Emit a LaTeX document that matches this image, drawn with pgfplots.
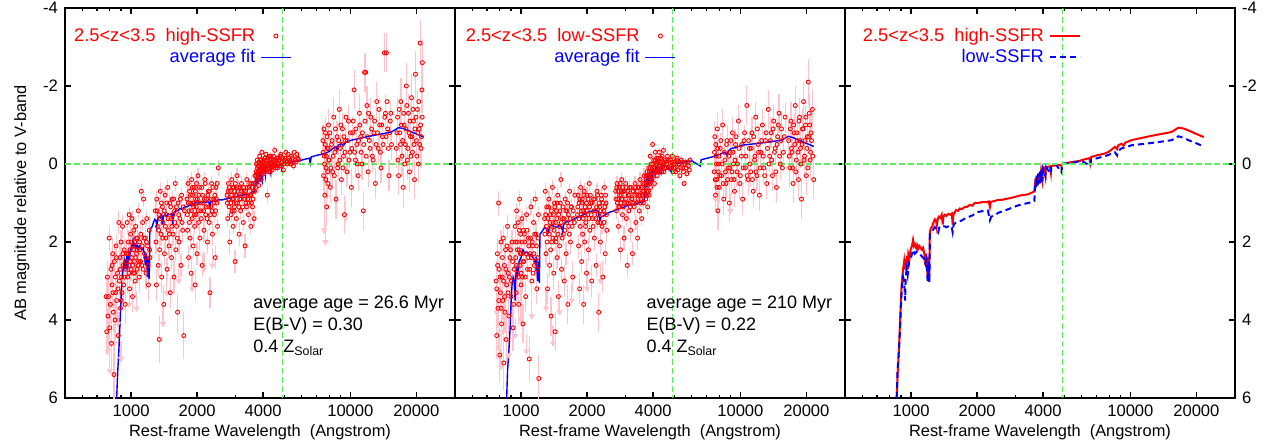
\documentclass[border=0pt]{standalone}
\usepackage{fontspec}
\setmainfont{Liberation Sans}
\usepackage{pgfplots}
\pgfplotsset{compat=1.18}
\usepackage{pgfplotstable}

\definecolor{gpgreen}{RGB}{95,235,95}
\definecolor{gppink}{RGB}{255,195,205}

\pgfplotstableread{
x y
860 6.0
870 5.3
880 4.8
890 4.1
898 3.6
904 3.2
912 2.9
920 2.7
930 2.5
936 2.7
942 2.45
950 2.6
958 2.35
966 2.7
972 2.3
985 2.4
995 2.2
1010 2.1
1021 1.95
1030 2.1
1040 2.05
1055 2.15
1065 2.08
1076 2.18
1090 2.1
1105 2.15
1120 2.2
1134 2.15
1150 2.3
1163 2.6
1170 2.3
1180 2.5
1190 2.9
1200 2.4
1210 2.95
1218 1.75
1230 1.65
1250 1.6
1265 1.5
1283 1.42
1300 1.45
1310 1.6
1325 1.4
1340 1.35
1360 1.38
1380 1.3
1395 1.55
1405 1.35
1426 1.3
1450 1.33
1480 1.28
1510 1.3
1535 1.27
1548 1.55
1560 1.3
1605 1.18
1640 1.2
1670 1.14
1700 1.16
1760 1.1
1800 1.1
1850 1.05
1900 1.07
1950 1.0
2023 1.0
2100 0.98
2200 0.98
2260 0.96
2289 1.1
2310 0.97
2400 0.95
2500 0.92
2600 0.92
2680 0.9
2800 0.88
2950 0.85
3082 0.82
3200 0.8
3400 0.78
3607 0.72
3650 0.7
3680 0.5
3700 0.35
3720 0.55
3740 0.3
3770 0.5
3800 0.25
3835 0.45
3870 0.2
3890 0.45
3920 0.18
3970 0.4
4000 0.12
4050 0.1
4100 0.3
4120 0.08
4300 0.06
4340 0.22
4360 0.05
4600 0.03
4850 0.02
4861 0.2
4880 0.0
5100 -0.02
5400 -0.05
5900 -0.08
6000 -0.1
6500 -0.15
6560 -0.02
6630 -0.18
7000 -0.22
7660 -0.27
8000 -0.32
8510 -0.44
8700 -0.38
8800 -0.48
9100 -0.52
9300 -0.47
9500 -0.55
10100 -0.61
10880 -0.65
11500 -0.68
12950 -0.74
14150 -0.78
15400 -0.82
16560 -0.93
17500 -0.91
18420 -0.86
20000 -0.77
21600 -0.69
}\hifit

\pgfplotstableread{
x y
860 6.0
868 5.3
880 4.8
892 4.2
900 3.6
910 3.1
920 2.9
930 3.0
940 3.5
945 2.9
955 2.7
965 2.85
980 2.5
1000 2.4
1021 2.2
1040 2.3
1060 2.25
1076 2.3
1100 2.32
1134 2.4
1150 2.45
1163 2.55
1175 2.45
1190 3.0
1205 2.5
1212 3.05
1220 1.8
1240 1.75
1283 1.62
1310 1.68
1330 1.75
1350 1.6
1380 1.58
1420 1.6
1450 1.62
1500 1.58
1530 1.6
1548 1.75
1565 1.55
1605 1.49
1700 1.45
1760 1.40
1900 1.32
2023 1.23
2150 1.2
2240 1.19
2290 1.44
2320 1.35
2400 1.32
2500 1.25
2680 1.19
2800 1.15
3082 1.06
3300 1.02
3607 0.97
3650 0.95
3680 0.55
3700 0.4
3720 0.6
3750 0.3
3780 0.55
3800 0.25
3840 0.5
3870 0.2
3890 0.5
3930 0.15
3970 0.45
4000 0.12
4100 0.3
4120 0.08
4340 0.25
4360 0.05
4600 0.03
4861 0.22
4880 0.0
5400 -0.03
6000 -0.08
6560 0.05
6630 -0.11
7660 -0.2
8000 -0.24
8500 -0.3
8700 -0.22
8800 -0.33
9100 -0.4
9500 -0.42
10100 -0.48
10880 -0.5
12950 -0.55
15400 -0.61
16560 -0.71
17500 -0.67
18420 -0.61
20000 -0.53
21600 -0.45
}\lofit

\pgfplotstableread{
x y e
770 3.4 0.5
775 4.3 0.6
780 2.9 0.4
785 3.9 0.5
790 3.4 0.5
795 1.9 0.3
800 4.2 0.6
805 3.6 0.5
810 2.7 0.4
815 4.6 0.7
820 3.1 0.4
825 2.3 0.4
830 3.8 0.5
836 5.4 0.8
840 2.5 0.4
845 4.0 0.5
850 3.3 0.4
855 2.1 0.3
860 3.5 0.5
868 2.8 0.4
875 4.4 0.6
880 1.5 0.3
885 3.0 0.4
890 2.4 0.3
895 3.7 0.5
900 2.0 0.3
905 2.9 0.4
910 3.3 0.4
915 1.6 0.3
920 2.6 0.4
925 3.1 0.4
930 2.2 0.3
940 3.6 0.5
945 2.7 0.4
955 2.3 0.3
960 1.5 0.3
965 2.9 0.4
970 2.0 0.3
975 2.6 0.3
980 1.3 0.2
985 3.2 0.4
990 2.2 0.3
995 1.8 0.3
1000 2.7 0.3
1005 2.4 0.3
1010 1.4 0.2
1015 3.4 0.4
1020 2.1 0.3
1025 2.8 0.3
1030 1.7 0.3
1035 2.5 0.3
1040 2.0 0.3
1045 3.0 0.4
1050 1.6 0.2
1060 2.3 0.3
1065 2.7 0.3
1070 1.9 0.3
1080 1.2 0.2
1085 2.5 0.3
1090 2.9 0.4
1100 2.2 0.3
1108 1.8 0.3
1113 0.7 0.2
1120 2.6 0.3
1130 1.5 0.2
1140 0.9 0.2
1150 2.3 0.3
1160 1.9 0.3
1170 2.8 0.4
1180 1.4 0.2
1190 2.1 0.3
1200 3.1 0.4
1210 1.7 0.3
1220 2.4 0.3
1290 1.2 0.3
1300 2.0 0.3
1305 3.1 0.4
1310 0.9 0.2
1320 1.6 0.3
1330 2.6 0.3
1340 1.3 0.2
1345 4.5 0.6
1350 2.2 0.3
1360 0.7 0.2
1370 1.8 0.3
1380 2.9 0.4
1390 1.1 0.2
1400 1.5 0.2
1410 3.6 0.5
1420 2.3 0.3
1430 0.8 0.2
1440 1.9 0.3
1450 1.3 0.2
1460 2.7 0.3
1470 0.6 0.2
1480 1.7 0.3
1490 2.1 0.3
1500 1.0 0.2
1510 3.3 0.4
1520 1.4 0.2
1530 2.4 0.3
1540 0.9 0.2
1555 1.8 0.3
1570 2.9 0.4
1580 1.2 0.2
1590 0.5 0.2
1600 2.2 0.3
1615 1.6 0.2
1630 3.8 0.5
1640 1.0 0.2
1655 2.0 0.3
1670 1.4 0.2
1690 2.6 0.3
1700 0.8 0.2
1720 1.7 0.3
1740 4.4 0.6
1750 1.2 0.2
1800 0.9 0.2
1810 1.7 0.3
1820 0.5 0.2
1830 2.4 0.3
1840 1.2 0.2
1850 0.7 0.2
1860 1.9 0.3
1870 1.0 0.2
1880 2.8 0.4
1890 0.4 0.2
1900 1.4 0.2
1910 0.8 0.2
1920 2.1 0.3
1930 1.1 0.2
1940 0.6 0.2
1950 1.6 0.2
1960 3.1 0.4
1970 0.9 0.2
1980 1.3 0.2
1990 0.5 0.2
2000 2.3 0.3
2010 1.0 0.2
2020 0.3 0.2
2030 1.5 0.2
2040 0.8 0.2
2060 1.9 0.3
2080 1.2 0.2
2100 0.6 0.2
2110 2.6 0.3
2130 1.0 0.2
2150 1.7 0.3
2170 0.4 0.2
2190 1.3 0.2
2210 0.9 0.2
2230 2.0 0.3
2250 0.7 0.2
2270 1.5 0.2
2290 3.3 0.4
2310 1.1 0.2
2330 0.5 0.2
2350 1.8 0.3
2380 0.9 0.2
2400 1.3 0.2
2420 2.4 0.3
2440 0.6 0.2
2460 1.0 0.2
2480 1.6 0.2
2500 0.1 0.2
2740 0.8 0.2
2760 1.4 0.2
2780 0.5 0.2
2800 1.1 0.2
2820 2.0 0.3
2840 0.7 0.2
2860 1.3 0.2
2880 0.4 0.2
2900 0.9 0.2
2920 1.6 0.2
2940 0.6 0.2
2960 1.1 0.2
2980 2.5 0.3
3000 0.8 0.2
3020 1.4 0.2
3040 0.3 0.2
3060 1.0 0.2
3090 0.6 0.2
3110 1.8 0.3
3130 0.9 0.2
3160 1.2 0.2
3190 0.5 0.2
3220 0.8 0.2
3250 1.5 0.2
3280 0.7 0.2
3310 2.1 0.3
3340 1.0 0.2
3370 0.4 0.2
3400 0.9 0.2
3430 1.3 0.2
3460 0.6 0.2
3490 0.8 0.2
3520 1.6 0.2
3550 0.5 0.2
3580 1.1 0.2
3610 0.7 0.2
3640 1.4 0.2
3670 0.3 0.2
3700 0.6 0.2
3720 0.2 0.1
3740 0.45 0.1
3760 -0.1 0.1
3780 0.35 0.1
3800 0.05 0.1
3820 0.55 0.2
3840 0.15 0.1
3860 -0.2 0.1
3880 0.3 0.1
3900 0.0 0.1
3920 0.4 0.1
3950 -0.3 0.1
3980 0.1 0.1
4000 -0.1 0.1
4030 0.25 0.1
4060 -0.05 0.1
4090 0.15 0.1
4120 -0.25 0.1
4150 0.05 0.1
4180 0.8 0.2
4210 -0.15 0.1
4240 0.1 0.1
4270 -0.05 0.1
4300 0.2 0.1
4330 -0.2 0.1
4360 0.0 0.1
4400 0.15 0.1
4440 -0.1 0.1
4480 0.05 0.1
4520 -0.35 0.1
4560 0.1 0.1
4600 -0.05 0.1
4650 0.1 0.1
4700 -0.15 0.1
4760 0.05 0.1
4820 -0.25 0.1
4880 -0.05 0.1
4950 0.15 0.1
5000 -0.1 0.1
5080 -0.3 0.1
5150 0.0 0.1
5230 -0.15 0.1
5300 -0.05 0.1
5400 -0.2 0.1
5500 0.05 0.1
5600 -0.1 0.1
5700 -0.25 0.1
5800 -0.12 0.1
7500 -0.6 0.4
7550 0.3 0.4
7600 -0.2 0.4
7650 0.8 0.5
7700 -0.8 0.4
7750 0.1 0.4
7800 1.1 0.5
7850 -0.4 0.4
7900 0.5 0.4
7950 -1.0 0.4
8000 -0.1 0.4
8100 0.6 0.4
8200 -0.5 0.4
8300 0.2 0.4
8400 -1.2 0.5
8500 -0.3 0.4
8600 0.9 0.5
8700 -0.7 0.4
8800 0.0 0.4
8900 -1.4 0.5
9000 -0.4 0.4
9100 0.4 0.4
9200 -0.9 0.4
9300 -0.2 0.4
9400 1.3 0.5
9500 -0.6 0.4
9650 0.2 0.4
9800 -1.1 0.4
9950 -0.3 0.4
10100 0.6 0.5
10250 -0.8 0.4
10400 -1.9 0.5
10550 -0.1 0.4
10700 -0.5 0.4
10850 0.3 0.4
11000 -1.3 0.5
11150 -0.7 0.4
11300 0.0 0.4
11450 1.2 0.5
11600 -2.35 0.5
11750 -2.35 0.5
11900 -1.5 0.5
12050 0.2 0.4
12200 -0.6 0.4
12400 -1.2 0.5
12600 -0.2 0.4
12800 -0.8 0.4
13000 0.5 0.4
13200 -1.6 0.5
13400 -0.4 0.4
13600 -1.0 0.4
13800 0.1 0.4
14000 -0.7 0.4
14300 -2.85 0.5
14450 -1.3 0.5
14600 -2.85 0.5
14800 -0.9 0.4
15000 0.3 0.4
15200 -1.1 0.5
15400 -0.5 0.4
16200 -0.4 0.5
16400 -1.2 0.5
16600 0.3 0.5
16800 -0.8 0.5
17000 -1.6 0.6
17200 -0.2 0.5
17400 0.6 0.5
17600 -1.0 0.5
17800 -0.5 0.5
18000 -2.0 0.6
18200 -0.1 0.5
18400 -1.3 0.5
18600 0.2 0.5
18800 -0.7 0.5
19000 -1.7 0.6
19200 -0.3 0.5
19400 -1.1 0.5
19600 0.4 0.5
19800 -2.3 0.6
20000 -0.6 0.5
20200 -1.4 0.5
20400 0.0 0.5
20600 -0.9 0.5
20800 -3.1 0.6
21000 -0.4 0.5
21200 -1.9 0.6
21300 -2.6 0.6
}\hiobs

\pgfplotstableread{
x y
820 2.6
828 3.3
848 2.9
858 2.4
872 3.2
892 2.7
902 3.5
918 2.3
935 2.9
950 2.5
968 2.3
978 2.8
992 2.5
1002 2.0
1018 2.6
1028 2.2
1038 2.8
1048 2.4
1058 1.9
1068 2.2
1078 2.6
1095 2.0
1105 2.5
1125 2.1
1135 2.7
1145 1.9
1165 2.4
1175 2.0
1195 2.6
1215 2.2
1315 1.2
1335 1.7
1355 1.4
1375 1.0
1395 1.9
1415 1.2
1435 1.6
1455 1.0
1475 1.4
1495 1.8
1515 1.1
1535 1.6
1550 1.3
1565 0.9
1585 1.5
1610 1.1
1625 1.9
1650 1.3
1680 0.9
1710 1.5
1730 1.1
1805 1.3
1825 1.0
1845 1.5
1865 0.8
1885 1.2
1905 0.6
1925 1.0
1945 1.3
1965 0.7
1985 1.1
2005 0.9
2025 1.2
2050 0.6
2070 1.0
2090 1.4
2120 0.8
2140 1.2
2160 0.9
2180 0.5
2200 1.1
2220 1.4
2240 0.8
2260 1.1
2280 0.7
2300 1.3
2320 0.9
2340 1.2
2360 0.6
2390 1.0
2410 0.8
2430 1.2
2450 0.9
2470 0.5
2750 1.0
2770 0.7
2790 0.9
2810 0.6
2850 1.0
2870 0.8
2890 1.2
2910 0.6
2930 0.9
2950 1.2
2970 0.7
2990 0.5
3010 1.0
3030 0.8
3070 0.7
3100 1.1
3140 0.6
3170 0.9
3200 0.7
3230 1.1
3260 0.6
3300 0.9
3330 0.7
3360 1.1
3390 0.6
3420 0.8
3450 1.0
3480 0.5
3510 0.8
3540 1.0
3570 0.6
3600 0.9
3630 0.5
3660 0.7
3710 0.3
3730 0.0
3750 0.25
3770 0.1
3790 0.4
3810 0.2
3830 -0.05
3850 0.3
3870 0.1
3890 0.2
3910 -0.1
3935 0.2
3965 0.05
3990 0.2
4015 0.0
4045 0.1
4075 -0.15
4105 0.05
4135 0.15
4165 -0.1
4195 0.0
4225 0.2
4255 -0.2
4285 0.05
4315 -0.1
4345 0.1
4380 -0.05
4420 0.05
4460 -0.2
4500 0.0
4540 -0.1
4580 0.05
4620 -0.15
4680 0.0
4730 -0.1
4790 -0.2
4850 0.05
4920 -0.15
4980 0.0
5050 -0.15
5120 -0.05
5200 -0.25
5270 -0.1
5350 0.0
5450 -0.15
5550 -0.3
5650 -0.05
5750 -0.15
7520 -0.3
7580 -0.9
7630 0.0
7680 -0.5
7730 0.4
7780 -0.2
7830 -0.7
7880 0.2
7930 -0.4
7980 -0.1
8050 -0.8
8150 0.1
8250 -0.6
8350 -0.2
8450 0.3
8550 -0.9
8650 -0.4
8750 0.1
8850 -0.6
8950 -0.1
9050 -1.0
9150 -0.5
9250 0.1
9350 -0.7
9450 -0.3
9550 -1.2
9700 -0.6
9850 -0.1
10000 -0.8
10150 -0.4
10300 -1.1
10450 -0.3
10600 -0.9
10750 0.0
10900 -0.6
11050 -1.0
11200 -0.3
11350 -0.8
11500 -0.5
11650 -1.1
11800 -0.2
11950 -0.7
12100 -1.3
12300 -0.4
12500 -0.9
12700 -0.1
12900 -1.1
13100 -0.5
13300 -0.8
13500 -1.4
13700 -0.3
13900 -1.0
14100 -0.5
14350 -1.2
14550 -0.7
14700 -1.6
14900 -0.4
15100 -0.8
15300 -1.3
16300 -0.8
16500 -0.1
16700 -1.4
16900 -0.5
17100 -1.0
17300 -0.6
17500 -1.3
17700 0.0
17900 -0.9
18100 -1.5
18300 -0.4
18500 -0.8
18700 -1.1
18900 -0.2
19100 -0.7
19300 -1.4
19500 -0.5
19700 -0.9
19900 -1.2
20100 -0.2
20300 -0.8
20500 -1.6
20700 -0.5
20900 -1.0
21100 -0.7
21250 -1.2
}\hiext

\pgfplotstableread{
x y
785 4.8
800 5.3
820 3.6
840 4.6
870 4.1
900 5.0
920 3.0
980 3.6
1060 3.7
1400 4.1
1450 3.3
1650 3.0
1900 3.2
2150 2.7
2350 2.6
7600 1.7
7700 2.0
9500 1.4
}\hilim

\pgfplotstableread{
x y e
770 3.0 0.5
775 4.4 0.6
780 2.3 0.4
785 3.7 0.5
790 1.0 0.3
795 2.7 0.4
800 4.9 0.7
805 3.3 0.5
810 2.0 0.3
815 4.1 0.6
820 2.9 0.4
825 3.5 0.5
830 1.9 0.3
835 5.1 0.7
840 2.6 0.4
845 3.8 0.5
850 2.2 0.3
855 4.5 0.6
860 3.1 0.4
868 1.6 0.3
875 2.8 0.4
880 3.9 0.5
890 2.4 0.4
900 3.4 0.5
910 2.0 0.3
920 4.2 0.6
930 2.7 0.4
940 1.6 0.3
945 2.4 0.3
950 3.3 0.4
955 1.2 0.2
960 2.0 0.3
965 2.8 0.4
970 1.5 0.2
975 3.6 0.5
980 2.2 0.3
985 0.9 0.2
990 2.6 0.3
995 1.8 0.3
1000 3.1 0.4
1005 2.3 0.3
1010 1.4 0.2
1015 2.9 0.4
1020 4.1 0.5
1025 1.7 0.3
1030 2.5 0.3
1040 2.0 0.3
1050 3.4 0.4
1060 1.3 0.2
1070 2.7 0.3
1080 1.9 0.3
1090 5.0 0.6
1100 2.3 0.3
1110 1.1 0.2
1120 3.0 0.4
1130 2.1 0.3
1140 1.5 0.2
1150 2.6 0.3
1160 0.9 0.2
1170 1.8 0.3
1180 3.2 0.4
1190 2.4 0.3
1200 1.3 0.2
1205 5.5 0.6
1280 1.4 0.3
1290 0.7 0.2
1300 2.3 0.3
1310 1.1 0.2
1320 3.2 0.4
1330 1.7 0.3
1340 0.9 0.2
1350 2.6 0.3
1360 1.3 0.2
1370 3.9 0.5
1380 2.0 0.3
1390 0.6 0.2
1400 1.5 0.2
1410 2.8 0.4
1420 1.0 0.2
1430 4.3 0.5
1440 1.9 0.3
1450 1.2 0.2
1460 2.4 0.3
1470 0.8 0.2
1480 3.4 0.4
1490 1.6 0.3
1500 2.1 0.3
1510 1.0 0.2
1520 0.4 0.2
1530 2.7 0.3
1545 1.4 0.2
1560 1.8 0.3
1575 3.0 0.4
1590 0.9 0.2
1605 2.3 0.3
1620 1.2 0.2
1635 3.6 0.5
1650 1.6 0.3
1665 0.7 0.2
1680 2.0 0.3
1700 1.1 0.2
1720 2.9 0.4
1740 1.4 0.2
1760 0.8 0.2
1810 1.3 0.2
1820 0.8 0.2
1830 2.1 0.3
1840 1.0 0.2
1850 3.2 0.4
1860 1.6 0.3
1870 0.6 0.2
1880 1.2 0.2
1890 2.5 0.3
1900 0.9 0.2
1910 1.8 0.3
1920 1.4 0.2
1930 3.6 0.5
1940 0.7 0.2
1950 2.0 0.3
1960 1.1 0.2
1975 1.5 0.2
1990 2.8 0.4
2000 0.8 0.2
2015 1.3 0.2
2030 2.2 0.3
2045 0.5 0.2
2060 1.7 0.3
2080 1.0 0.2
2100 3.0 0.4
2120 1.4 0.2
2140 0.9 0.2
2160 1.9 0.3
2180 1.2 0.2
2200 2.6 0.3
2220 0.7 0.2
2240 1.5 0.2
2260 3.8 0.5
2280 1.1 0.2
2300 2.0 0.3
2320 0.8 0.2
2340 1.6 0.2
2360 2.9 0.4
2380 1.2 0.2
2400 0.6 0.2
2420 2.3 0.3
2440 1.0 0.2
2460 1.7 0.3
2700 0.7 0.2
2720 1.2 0.2
2740 0.5 0.2
2760 0.9 0.2
2780 1.6 0.2
2800 0.6 0.2
2820 1.1 0.2
2840 2.2 0.3
2860 0.8 0.2
2880 0.4 0.2
2900 1.3 0.2
2920 0.7 0.2
2950 1.9 0.3
2970 1.0 0.2
3000 0.5 0.2
3020 1.4 0.2
3050 2.6 0.3
3080 0.8 0.2
3100 1.2 0.2
3130 0.6 0.2
3160 1.7 0.3
3190 0.9 0.2
3220 2.3 0.3
3250 0.7 0.2
3280 1.1 0.2
3310 0.5 0.2
3340 1.5 0.2
3370 0.8 0.2
3400 1.9 0.3
3430 0.6 0.2
3460 1.2 0.2
3490 0.4 0.2
3520 0.9 0.2
3550 1.4 0.2
3580 0.7 0.2
3610 1.0 0.2
3640 0.3 0.2
3670 0.8 0.2
3700 0.9 0.2
3720 0.4 0.1
3740 0.7 0.2
3760 0.2 0.1
3780 1.1 0.2
3800 0.5 0.1
3820 0.1 0.1
3840 0.8 0.2
3860 0.3 0.1
3880 -0.2 0.1
3900 0.6 0.1
3920 0.0 0.1
3950 0.4 0.1
3980 -0.5 0.1
4000 0.2 0.1
4030 -0.1 0.1
4060 0.5 0.1
4090 -0.3 0.1
4120 0.1 0.1
4150 -0.15 0.1
4180 0.3 0.1
4210 -0.05 0.1
4240 0.15 0.1
4270 -0.3 0.1
4300 0.05 0.1
4340 -0.15 0.1
4380 0.2 0.1
4420 -0.05 0.1
4460 -0.35 0.1
4500 0.1 0.1
4550 -0.1 0.1
4600 0.0 0.1
4650 -0.2 0.1
4700 0.1 0.1
4800 -0.1 0.1
4850 0.05 0.1
4900 -0.2 0.1
4960 0.1 0.1
5020 -0.05 0.1
5080 0.2 0.1
5150 -0.15 0.1
5220 0.0 0.1
5300 0.3 0.1
5380 -0.1 0.1
5460 0.1 0.1
5540 0.5 0.1
5620 -0.05 0.1
5700 0.25 0.1
5800 0.05 0.1
5900 -0.1 0.1
7600 0.2 0.4
7650 -0.7 0.4
7700 0.8 0.4
7750 -0.2 0.4
7800 0.4 0.4
7850 -0.9 0.4
7900 1.2 0.5
7950 0.0 0.4
8000 0.6 0.4
8100 -0.4 0.4
8200 0.3 0.4
8300 -1.0 0.4
8400 0.9 0.4
8500 -0.1 0.4
8600 0.5 0.4
8700 -0.6 0.4
8800 0.1 0.4
8900 1.0 0.5
9000 -0.3 0.4
9100 0.4 0.4
9200 -0.8 0.4
9300 0.0 0.4
9400 0.7 0.4
9500 -0.5 0.4
9650 0.2 0.4
9800 -1.1 0.4
9950 0.5 0.4
10100 -0.2 0.4
10250 0.9 0.4
10400 -0.6 0.4
10550 0.1 0.4
10700 -1.5 0.5
10850 0.4 0.4
11000 -0.4 0.4
11150 0.2 0.4
11300 -0.8 0.4
11450 0.7 0.4
11600 -0.1 0.4
11750 -1.2 0.4
11900 0.3 0.4
12050 -0.5 0.4
12200 0.8 0.4
12400 -0.3 0.4
12600 -1.0 0.4
12800 0.1 0.4
13000 -0.6 0.4
13200 0.5 0.4
13400 -1.4 0.5
13600 -0.2 0.4
13800 -0.8 0.4
14000 0.3 0.4
14200 -1.1 0.4
14400 -0.4 0.4
14600 0.6 0.4
14800 -0.7 0.4
15000 -1.3 0.5
15200 0.0 0.4
15400 -0.9 0.4
15700 -0.3 0.4
16000 -1.2 0.4
16600 -0.6 0.5
16800 0.1 0.5
17000 -1.1 0.5
17200 -0.3 0.5
17400 0.5 0.5
17600 -0.8 0.5
17800 -1.5 0.5
18000 -0.1 0.5
18200 -0.6 0.5
18400 0.4 0.5
18600 -1.2 0.5
18800 -0.4 0.5
19000 0.9 0.5
19200 -0.9 0.5
19400 -1.6 0.5
19600 -0.2 0.5
19800 -1.0 0.5
20000 0.3 0.5
20200 -0.7 0.5
20400 -2.1 0.6
20600 -1.3 0.5
20800 -0.1 0.5
21000 -0.8 0.5
21300 -1.4 0.5
21600 0.4 0.5
}\loobs

\pgfplotstableread{
x y
775 3.2
782 2.6
792 3.5
802 2.9
812 3.7
822 2.4
832 3.0
842 3.4
852 2.7
862 2.1
872 3.3
885 2.9
895 2.2
905 3.0
915 2.5
925 3.6
942 2.0
952 2.6
962 2.2
972 2.9
982 1.7
992 2.3
1002 2.8
1012 2.0
1022 2.5
1035 1.8
1045 2.9
1055 2.3
1065 1.7
1075 2.4
1085 2.1
1095 2.7
1105 1.9
1115 2.4
1125 2.0
1135 2.8
1145 2.3
1155 1.8
1165 2.5
1175 2.1
1185 2.7
1195 1.9
1285 1.8
1295 1.3
1305 1.6
1315 2.0
1325 1.4
1335 1.1
1345 1.8
1355 1.5
1365 2.2
1375 1.2
1385 1.6
1395 1.9
1405 1.3
1415 1.7
1425 1.1
1435 1.5
1445 2.0
1455 1.4
1465 1.0
1475 1.8
1485 1.3
1495 1.6
1505 1.2
1525 1.5
1540 1.9
1555 1.1
1570 1.4
1585 1.7
1600 1.2
1615 1.5
1630 1.0
1645 1.3
1660 1.8
1675 1.4
1690 1.1
1710 1.6
1730 1.2
1750 1.5
1815 1.1
1835 1.4
1855 0.9
1875 1.3
1895 1.0
1915 1.2
1935 0.8
1955 1.3
1970 1.6
1985 1.0
2005 1.2
2020 0.9
2040 1.4
2055 1.1
2070 0.8
2090 1.3
2110 1.0
2130 1.6
2150 1.2
2170 0.9
2190 1.4
2210 1.1
2230 0.8
2250 1.3
2270 1.0
2290 1.5
2310 1.2
2330 0.9
2350 1.3
2370 1.0
2390 1.5
2410 1.1
2430 0.8
2450 1.3
2710 0.9
2730 0.6
2750 1.0
2770 0.7
2790 1.1
2810 0.8
2830 0.5
2850 1.0
2870 0.7
2890 0.9
2910 0.6
2935 1.1
2960 0.7
2990 0.9
3010 0.6
3035 1.0
3065 0.7
3090 1.0
3115 0.8
3145 1.1
3175 0.6
3205 0.9
3235 0.7
3265 1.0
3295 0.8
3325 0.6
3355 1.0
3385 0.7
3415 0.9
3445 0.6
3475 0.8
3505 1.0
3535 0.6
3565 0.8
3595 0.5
3625 0.7
3655 0.5
3710 0.6
3730 0.3
3750 0.8
3770 0.5
3790 0.3
3810 0.7
3830 0.4
3850 0.2
3870 0.5
3890 0.1
3910 0.4
3935 0.2
3965 0.3
3990 0.0
4015 0.3
4045 0.1
4075 0.2
4105 -0.1
4135 0.2
4165 0.0
4195 0.15
4225 -0.15
4255 0.05
4285 0.2
4320 -0.05
4360 0.1
4400 -0.2
4440 0.05
4480 0.2
4520 -0.05
4570 0.1
4620 0.0
4680 -0.1
4820 0.1
4880 -0.05
4930 0.2
4990 0.0
5050 0.1
5120 -0.1
5190 0.15
5260 0.0
5340 0.1
5420 -0.05
5500 0.2
5580 0.0
5660 0.1
5750 -0.05
5850 0.15
7620 -0.3
7680 0.4
7730 -0.5
7780 0.0
7830 0.6
7880 -0.4
7930 0.2
7980 -0.2
8050 0.3
8150 -0.6
8250 0.0
8350 0.5
8450 -0.3
8550 0.2
8650 -0.5
8750 0.4
8850 -0.2
8950 0.1
9050 -0.6
9150 0.2
9250 -0.3
9350 0.4
9450 -0.1
9550 -0.7
9700 0.0
9850 -0.4
10000 0.3
10150 -0.5
10300 0.1
10450 -0.8
10600 -0.2
10750 0.3
10900 -0.6
11050 0.0
11200 -0.4
11350 0.4
11500 -0.7
11650 -0.2
11800 0.2
11950 -0.9
12100 -0.3
12300 0.1
12500 -0.6
12700 -0.2
12900 0.3
13100 -0.8
13300 -0.4
13500 0.0
13700 -0.6
13900 -0.1
14100 -0.9
14300 -0.3
14500 0.2
14700 -0.5
14900 -1.0
15100 -0.2
15300 -0.6
15550 0.1
15850 -0.7
16700 -0.2
16900 -0.9
17100 -0.4
17300 0.1
17500 -1.0
17700 -0.5
17900 0.2
18100 -0.8
18300 -0.3
18500 -1.1
18700 -0.6
18900 0.0
19100 -0.5
19300 -0.9
19500 -0.1
19700 -0.6
19900 -1.2
20100 -0.4
20300 0.1
20500 -0.7
20700 -1.0
20900 -0.3
21100 -0.6
21400 -0.2
}\loext

\pgfplotstableread{
x y
775 3.8
790 4.7
810 5.2
830 4.3
850 3.1
880 4.9
940 4.4
1000 4.0
1060 4.8
1120 3.9
1300 3.7
1400 4.6
1500 3.8
1700 3.5
2000 3.2
2300 3.0
7700 0.9
9000 1.2
}\lolim

\begin{document}
\begin{tikzpicture}
\useasboundingbox (0,0) rectangle (635pt,222.5pt);

% left: high-SSFR
\begin{axis}[at={(32.5pt,23.5pt)}, anchor=south west,
  scale only axis, width=195pt, height=195pt,
  xmode=log, xmin=500, xmax=30000,
  ymin=-4, ymax=6, y dir=reverse,
  xtick={1000,2000,4000,10000,20000},
  xticklabels={1000,2000,4000,10000,20000},
  minor xtick={600,700,800,900,3000,5000,6000,7000,8000,9000,30000},
  ytick={-4,-2,0,2,4,6},
  yticklabels={-4,-2,0,2,4,6},
  tick align=inside,
  major tick length=3pt, minor tick length=1.6pt,
  axis line style={line width=1pt},
  tick style={black, line width=0.6pt},
  tick label style={font=\fontsize{8.3}{10}\selectfont},
  label style={font=\fontsize{8.2}{10}\selectfont},
  xlabel style={yshift=3pt},
  xlabel={Rest-frame Wavelength\ \ (Angstrom)},
  ylabel={AB magnitude relative to V-band},
  legend image code/.code={\draw[mark repeat=2, mark phase=2, #1]
    plot coordinates {(0pt,0pt) (7.5pt,0pt) (15pt,0pt)};},
  legend style={draw=none, fill=none, font=\fontsize{9.15}{11}\selectfont,
    at={(0.582,0.955)}, anchor=north east, inner sep=0pt,
    nodes={inner sep=1pt}, row sep=0.5pt, column sep=1.5pt},
  legend cell align=right, legend plot pos=right]
\addplot[only marks, mark=triangle*, mark size=1.4pt, color=gppink,
  mark options={rotate=180}, forget plot,
  error bars/y dir=minus, error bars/y fixed=0.45, error bars/error mark=none,
  error bars/error bar style={color=gppink, line width=0.6pt}]
  table[x=x, y=y] {\hilim};
\addplot[only marks, mark=o, mark size=1pt, color=red, line width=0.45pt, forget plot]
  table[x=x, y=y] {\hiext};
\addplot[only marks, mark=o, mark size=1pt, color=red, line width=0.45pt,
  error bars/y dir=both, error bars/y explicit, error bars/error mark=none,
  error bars/error bar style={color=gppink, line width=0.6pt}]
  table[x=x, y=y, y error=e] {\hiobs};
\addlegendentry{\textcolor{red}{2.5<z<3.5\ \ high-SSFR}}
\addplot[color=blue, line width=0.7pt] table[x=x, y=y] {\hifit};
\addlegendentry{\textcolor{blue}{average fit}}
\addplot[color=gpgreen, line width=0.8pt, dash pattern=on 3pt off 1.5pt, forget plot] coordinates {(500,0) (30000,0)};
\addplot[color=gpgreen, line width=0.8pt, dash pattern=on 3pt off 1.5pt, forget plot] coordinates {(4900,-4) (4900,6)};
\node[anchor=north west, align=left, inner sep=0pt, font=\fontsize{9}{11}\selectfont]
  at (rel axis cs:0.482,0.262)
  {average age = 26.6 Myr\\E(B-V) = 0.30\\0.4 Z{\fontsize{6.2}{7}\selectfont\raisebox{-1.3pt}{Solar}}};
\end{axis}

% middle: low-SSFR
\begin{axis}[at={(227.5pt,23.5pt)}, anchor=south west,
  scale only axis, width=195pt, height=195pt,
  xmode=log, xmin=500, xmax=30000,
  ymin=-4, ymax=6, y dir=reverse,
  xtick={1000,2000,4000,10000,20000},
  xticklabels={1000,2000,4000,10000,20000},
  minor xtick={600,700,800,900,3000,5000,6000,7000,8000,9000,30000},
  ytick={-4,-2,0,2,4,6},
  yticklabels={},
  tick align=inside,
  major tick length=3pt, minor tick length=1.6pt,
  axis line style={line width=1pt},
  tick style={black, line width=0.6pt},
  tick label style={font=\fontsize{8.3}{10}\selectfont},
  label style={font=\fontsize{8.2}{10}\selectfont},
  xlabel style={yshift=3pt},
  xlabel={Rest-frame Wavelength\ \ (Angstrom)},
  legend image code/.code={\draw[mark repeat=2, mark phase=2, #1]
    plot coordinates {(0pt,0pt) (7.5pt,0pt) (15pt,0pt)};},
  legend style={draw=none, fill=none, font=\fontsize{9.15}{11}\selectfont,
    at={(0.568,0.955)}, anchor=north east, inner sep=0pt,
    nodes={inner sep=1pt}, row sep=0.5pt, column sep=1.5pt},
  legend cell align=right, legend plot pos=right]
\addplot[only marks, mark=triangle*, mark size=1.4pt, color=gppink,
  mark options={rotate=180}, forget plot,
  error bars/y dir=minus, error bars/y fixed=0.45, error bars/error mark=none,
  error bars/error bar style={color=gppink, line width=0.6pt}]
  table[x=x, y=y] {\lolim};
\addplot[only marks, mark=o, mark size=1pt, color=red, line width=0.45pt, forget plot]
  table[x=x, y=y] {\loext};
\addplot[only marks, mark=o, mark size=1pt, color=red, line width=0.45pt,
  error bars/y dir=both, error bars/y explicit, error bars/error mark=none,
  error bars/error bar style={color=gppink, line width=0.6pt}]
  table[x=x, y=y, y error=e] {\loobs};
\addlegendentry{\textcolor{red}{2.5<z<3.5\ \ low-SSFR}}
\addplot[color=blue, line width=0.7pt] table[x=x, y=y] {\lofit};
\addlegendentry{\textcolor{blue}{average fit}}
\addplot[color=gpgreen, line width=0.8pt, dash pattern=on 3pt off 1.5pt, forget plot] coordinates {(500,0) (30000,0)};
\addplot[color=gpgreen, line width=0.8pt, dash pattern=on 3pt off 1.5pt, forget plot] coordinates {(4900,-4) (4900,6)};
\node[anchor=north west, align=left, inner sep=0pt, font=\fontsize{9}{11}\selectfont]
  at (rel axis cs:0.49,0.262)
  {average age = 210 Myr\\E(B-V) = 0.22\\0.4 Z{\fontsize{6.2}{7}\selectfont\raisebox{-1.3pt}{Solar}}};
\end{axis}

% right: both fits
\begin{axis}[at={(422.5pt,23.5pt)}, anchor=south west,
  scale only axis, width=195pt, height=195pt,
  xmode=log, xmin=500, xmax=30000,
  ymin=-4, ymax=6, y dir=reverse,
  xtick={1000,2000,4000,10000,20000},
  xticklabels={1000,2000,4000,10000,20000},
  minor xtick={600,700,800,900,3000,5000,6000,7000,8000,9000,30000},
  ytick={-4,-2,0,2,4,6},
  yticklabels={-4,-2,0,2,4,6},
  yticklabel pos=right,
  tick align=inside,
  major tick length=3pt, minor tick length=1.6pt,
  axis line style={line width=1pt},
  tick style={black, line width=0.6pt},
  tick label style={font=\fontsize{8.3}{10}\selectfont},
  label style={font=\fontsize{8.2}{10}\selectfont},
  xlabel style={yshift=3pt},
  xlabel={Rest-frame Wavelength\ \ (Angstrom)},
  legend image code/.code={\draw[mark repeat=2, mark phase=2, #1]
    plot coordinates {(0pt,0pt) (7.5pt,0pt) (15pt,0pt)};},
  legend style={draw=none, fill=none, font=\fontsize{9.15}{11}\selectfont,
    at={(0.606,0.955)}, anchor=north east, inner sep=0pt,
    nodes={inner sep=1pt}, row sep=0.5pt, column sep=1.5pt},
  legend cell align=right, legend plot pos=right]
\addplot[color=red, line width=1pt] table[x=x, y=y] {\hifit};
\addlegendentry{\textcolor{red}{2.5<z<3.5\ \ high-SSFR}}
\addplot[color=blue, line width=1pt, dash pattern=on 3pt off 2pt] table[x=x, y=y] {\lofit};
\addlegendentry{\textcolor{blue}{low-SSFR}}
\addplot[color=gpgreen, line width=0.8pt, dash pattern=on 3pt off 1.5pt, forget plot] coordinates {(500,0) (30000,0)};
\addplot[color=gpgreen, line width=0.8pt, dash pattern=on 3pt off 1.5pt, forget plot] coordinates {(4900,-4) (4900,6)};
\end{axis}
\end{tikzpicture}
\end{document}
